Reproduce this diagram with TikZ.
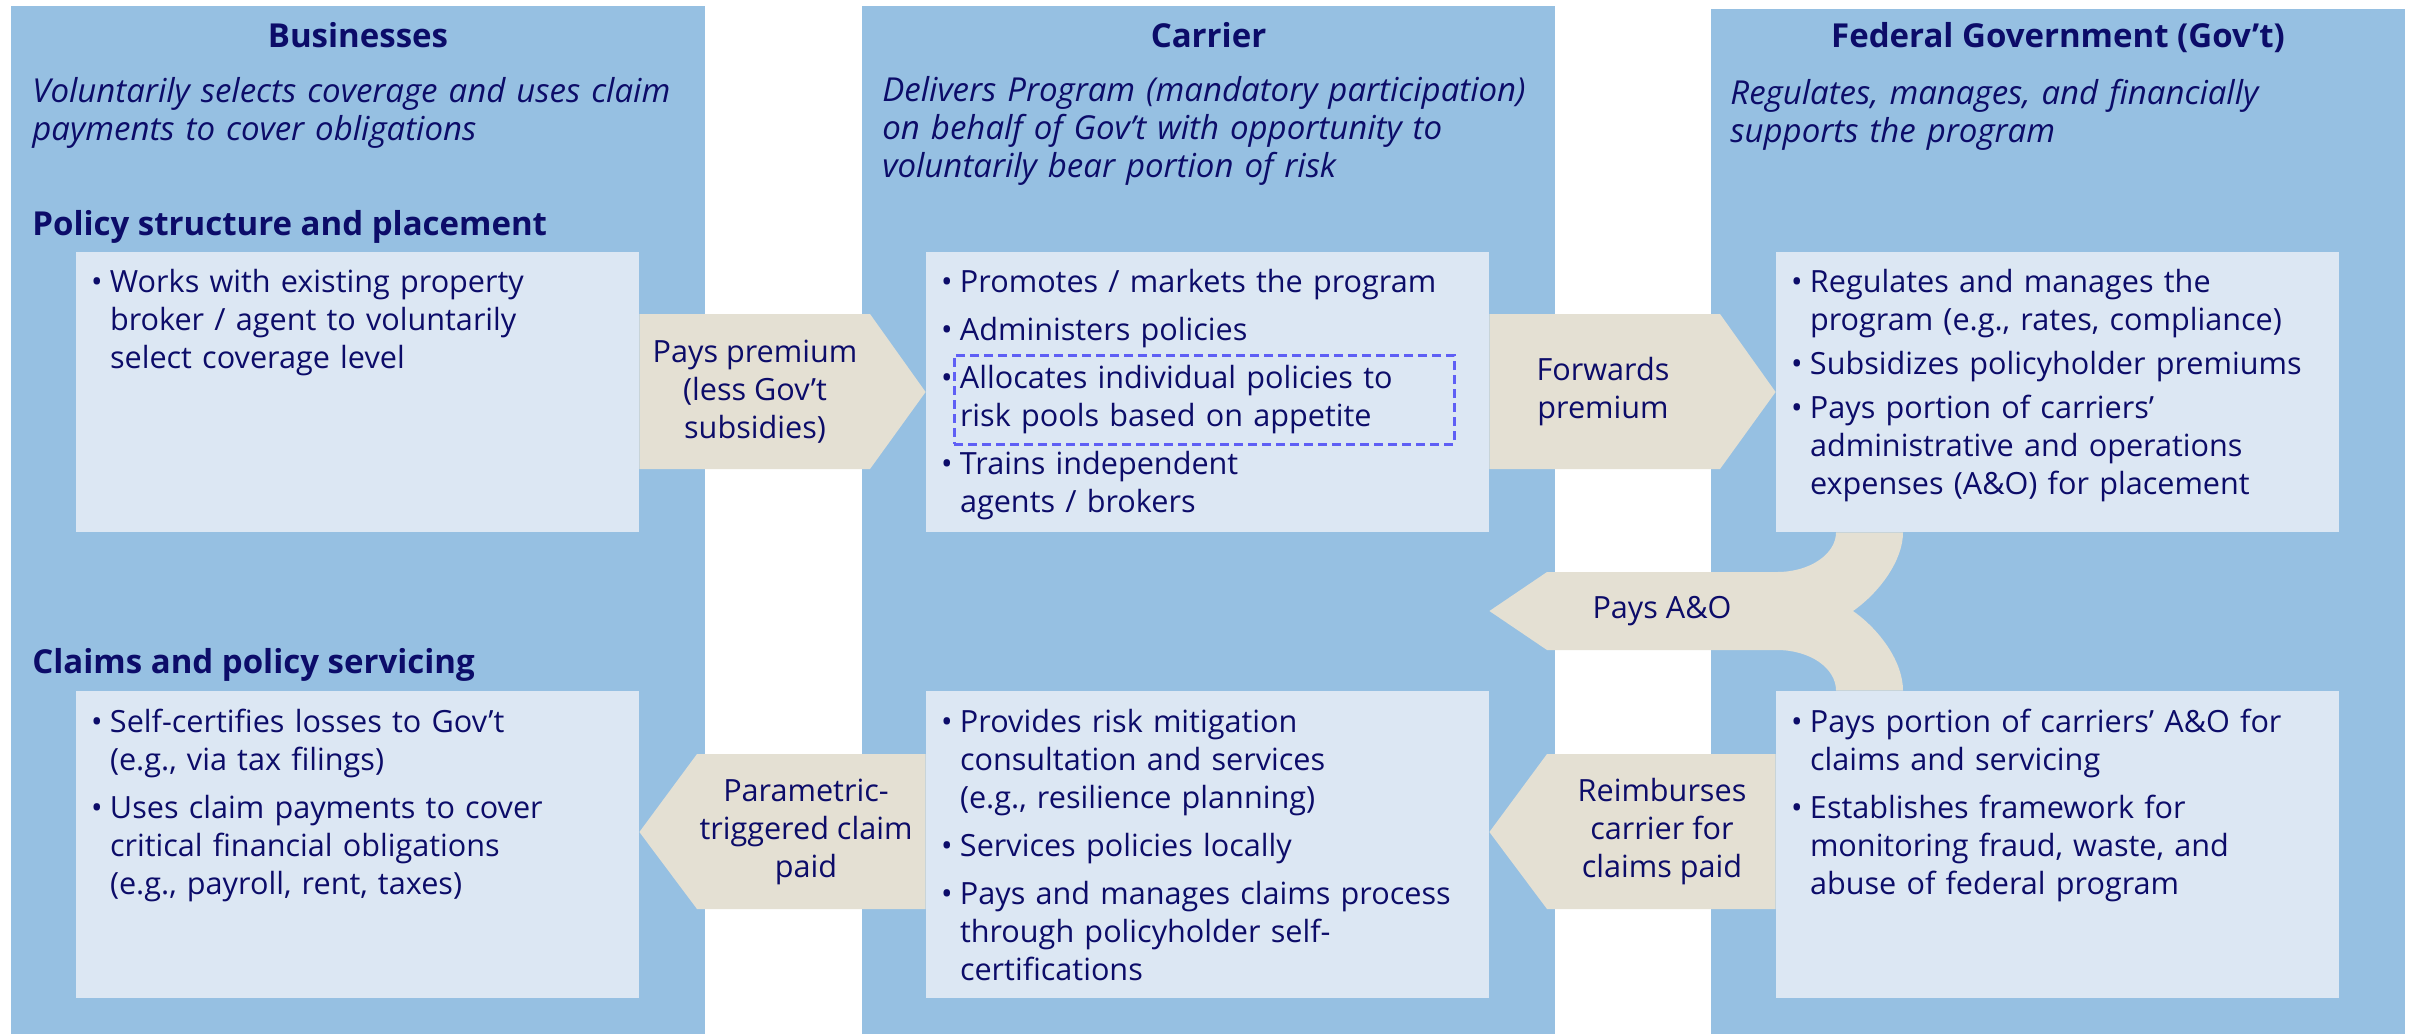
\documentclass[tikz,border=0pt]{standalone}
\usepackage{fontspec}
\setmainfont{Open Sans}
\usetikzlibrary{fit}
\definecolor{navy}{RGB}{12,12,105}
\definecolor{colblue}{RGB}{150,192,226}
\definecolor{boxblue}{RGB}{220,231,243}
\definecolor{flowtan}{RGB}{228,224,211}
\definecolor{dashblue}{RGB}{95,95,245}
\newcommand\bodysize{\fontsize{15.3pt}{19pt}\selectfont}
\newcommand\headsize{\fontsize{16.5pt}{19pt}\selectfont}
\newcommand\itm[1]{{\let\\\newline\hangindent=9.5pt\hangafter=1\makebox[9.5pt][l]{\textbullet}#1\par}}
\newcommand\itmgap{\vspace{5pt}}
\tikzset{
  column/.style={fill=colblue, inner sep=0pt},
  inbox/.style={fill=boxblue, inner sep=0pt},
  flow/.style={fill=flowtan},
  head/.style={font=\headsize\bfseries, text=navy, anchor=base},
  lead/.style={font=\headsize\itshape, text=navy, anchor=base west, text width=340pt, align=left, inner sep=0pt},
  sect/.style={font=\headsize\bfseries, text=navy, anchor=base west, inner sep=0pt},
  items/.style={font=\bodysize, text=navy, anchor=base west, text width=272pt, inner sep=0pt},
  flowtxt/.style={font=\bodysize, text=navy, align=center, inner sep=0pt},
  hilite/.style={draw=dashblue, line width=1.5pt, dash pattern=on 4.5pt off 2.5pt, inner sep=0pt}
}
\begin{document}
\begin{tikzpicture}[x=0.5pt,y=-0.5pt]
\fill[white] (0,0) rectangle (2413,1034);
\useasboundingbox (0,0) rectangle (2413,1034);
% columns
\node[column, fit={(11,6) (705,1034)}] (bus) {};
\node[column, fit={(862,6) (1555,1034)}] (car) {};
\node[column, fit={(1711,9) (2405,1034)}] (gov) {};
\node[head] (bushead) at (bus.north |- 0,47) {Businesses};
\node[head] (carhead) at (car.north |- 0,47) {Carrier};
\node[head] (govhead) at (gov.north |- 0,47) {Federal Government (Gov’t)};
\node[lead] (buslead) at (32,102) {Voluntarily selects coverage and uses claim\\payments to cover obligations};
\node[lead] (carlead) at (882,101) {Delivers Program (mandatory participation)\\on behalf of Gov’t with opportunity to\\voluntarily bear portion of risk};
\node[lead] (govlead) at (1730,104) {Regulates, manages, and financially\\supports the program};
\node[sect] (polsect) at (32,235) {Policy structure and placement};
\node[sect] (clmsect) at (32,673) {Claims and policy servicing};
% boxes
\node[inbox, fit={(76,252) (639,532)}] (bt) {};
\node[inbox, fit={(76,691) (639,998)}] (bb) {};
\node[inbox, fit={(926,252) (1489,532)}] (ct) {};
\node[inbox, fit={(926,691) (1489,998)}] (cb) {};
\node[inbox, fit={(1776,252) (2339,532)}] (gt) {};
\node[inbox, fit={(1776,691) (2339,998)}] (gb) {};
% flows
\fill[flow] (bt.east |- 0,314) -- (870,314) -- (ct.west) -- (870,469) -- (bt.east |- 0,469) -- cycle;
\fill[flow] (ct.east |- 0,314) -- (1720,314) -- (gt.west) -- (1720,469) -- (ct.east |- 0,469) -- cycle;
\fill[flow] (cb.west |- 0,754) -- (697,754) -- (bb.east |- 0,832) -- (697,909) -- (cb.west |- 0,909) -- cycle;
\fill[flow] (gb.west |- 0,754) -- (1547,754) -- (cb.east |- 0,832) -- (1547,909) -- (gb.west |- 0,909) -- cycle;
\fill[flow] (ct.east |- 0,611) -- (1547,572) -- (1777,572)
  .. controls (1810,572) and (1836,554) .. (1836,0 |- gt.south) -- (1903,0 |- gt.south)
  .. controls (1903,560) and (1880,592) .. (1853,611)
  .. controls (1880,630) and (1903,662) .. (1903,0 |- gb.north) -- (1836,0 |- gb.north)
  .. controls (1836,668) and (1810,650) .. (1777,650) -- (1547,650) -- cycle;
\node[flowtxt] (premtxt) at (755,392) {Pays premium\\(less Gov’t\\subsidies)};
\node[flowtxt] (fwdtxt) at (1603,392) {Forwards\\premium};
\node[flowtxt] (aotxt) at (1662,611) {Pays A\&O};
\node[flowtxt] (paramtxt) at (806,832) {Parametric-\\triggered claim\\paid};
\node[flowtxt] (reimbtxt) at (1662,832) {Reimburses\\carrier for\\claims paid};
% box texts
\node[items] (bttxt) at ([shift={(15,41)}]bt.north west) {\raggedright
  \itm{Works with existing property\\broker / agent to voluntarily\\select coverage level}};
\node[items] (cttxt) at ([shift={(15,41)}]ct.north west) {\raggedright
  \itm{Promotes / markets the program}\itmgap
  \itm{Administers policies}\itmgap
  \itm{Allocates individual policies to\\risk pools based on appetite}\itmgap
  \itm{Trains independent\\agents / brokers}};
\node[items] (gttxt) at ([shift={(15,41)}]gt.north west) {\raggedright
  \itm{Regulates and manages the\\program (e.g., rates, compliance)}\vspace{3pt}
  \itm{Subsidizes policyholder premiums}\vspace{3pt}
  \itm{Pays portion of carriers’\\administrative and operations\\expenses (A\&O) for placement}};
\node[items] (bbtxt) at ([shift={(15,42)}]bb.north west) {\raggedright
  \itm{Self-certifies losses to Gov’t\\(e.g., via tax filings)}\itmgap
  \itm{Uses claim payments to cover\\critical financial obligations\\(e.g., payroll, rent, taxes)}};
\node[items] (cbtxt) at ([shift={(15,42)}]cb.north west) {\raggedright
  \itm{Provides risk mitigation\\consultation and services\\(e.g., resilience planning)}\itmgap
  \itm{Services policies locally}\itmgap
  \itm{Pays and manages claims process\\through policyholder self-\\certifications}};
\node[items] (gbtxt) at ([shift={(15,42)}]gb.north west) {\raggedright
  \itm{Pays portion of carriers’ A\&O for\\claims and servicing}\itmgap
  \itm{Establishes framework for\\monitoring fraud, waste, and\\abuse of federal program}};
\node[hilite, fit={(954,355) (1454,444)}] (alloc) {};
\end{tikzpicture}
\end{document}
